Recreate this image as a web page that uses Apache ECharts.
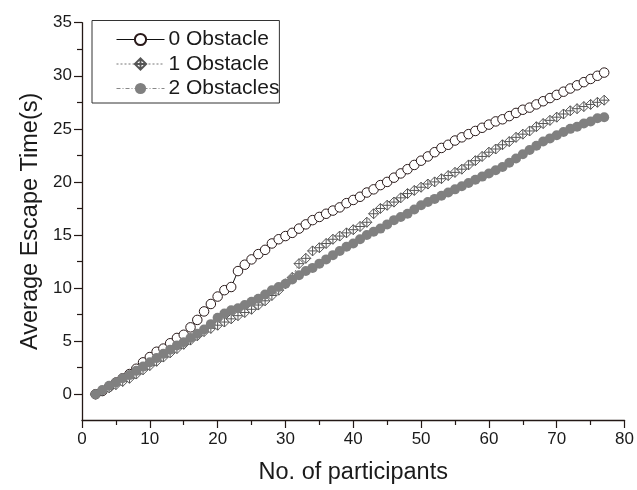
<!DOCTYPE html>
<html>
<head>
<meta charset="utf-8">
<script src="https://cdn.jsdelivr.net/npm/echarts@6/dist/echarts.min.js"></script>
<style>
html,body{margin:0;padding:0;background:#fff;}
#chart{width:637px;height:490px;}
</style>
</head>
<body>
<div id="chart"></div>
<script>
var participants = [];
for (var p = 2; p <= 77; p++) participants.push(p);

var obstacle0 = [0,0.3,0.7,1.1,1.5,1.9,2.4,3.0,3.5,4.0,4.3,4.8,5.3,5.6,6.3,7.0,7.8,8.5,9.2,9.8,10.1,11.6,12.2,12.7,13.2,13.6,14.2,14.6,14.9,15.2,15.6,16.0,16.4,16.7,17.0,17.3,17.6,18.0,18.3,18.6,19.0,19.3,19.7,20.0,20.4,20.8,21.2,21.6,22.0,22.4,22.8,23.2,23.5,23.9,24.2,24.5,24.8,25.1,25.4,25.7,25.9,26.2,26.5,26.8,27.0,27.3,27.6,27.9,28.2,28.5,28.8,29.1,29.4,29.7,30.0,30.3];
var obstacle1 = [0,0.3,0.6,0.9,1.2,1.5,1.9,2.3,2.7,3.1,3.5,3.9,4.3,4.7,5.1,5.5,5.9,6.2,6.5,6.8,7.1,7.4,7.7,8.0,8.4,8.8,9.3,9.8,10.4,11.0,12.3,12.8,13.5,13.8,14.2,14.6,14.9,15.2,15.5,15.8,16.2,17.0,17.5,17.8,18.1,18.5,18.9,19.2,19.5,19.8,20.0,20.3,20.6,20.9,21.2,21.6,22.0,22.4,22.8,23.1,23.5,23.8,24.2,24.5,24.8,25.2,25.5,25.8,26.1,26.4,26.7,26.9,27.1,27.3,27.5,27.7];
var obstacle2 = [0,0.4,0.8,1.1,1.5,1.8,2.2,2.6,3.0,3.4,3.8,4.2,4.6,4.9,5.3,5.7,6.1,6.6,7.2,7.6,7.9,8.1,8.4,8.7,9.0,9.4,9.8,10.1,10.4,10.8,11.2,11.6,11.9,12.3,12.7,13.1,13.5,13.9,14.2,14.6,15.0,15.3,15.6,16.0,16.4,16.7,17.0,17.4,17.8,18.1,18.4,18.7,19.0,19.3,19.6,19.9,20.2,20.5,20.8,21.1,21.4,21.8,22.2,22.6,23.0,23.4,23.8,24.1,24.4,24.7,25.0,25.2,25.5,25.7,26.0,26.1];

var seriesNames = ['0 Obstacle', '1 Obstacle', '2 Obstacles'];
var yMajorTicks = [0, 5, 10, 15, 20, 25, 30, 35];
var yMinorTicks = [2.5, 7.5, 12.5, 17.5, 22.5, 27.5, 32.5];

function pairs(vals) {
  return participants.map(function (x, i) { return [x, vals[i]]; });
}

var font = 'Liberation Sans, Arial, sans-serif';
var axisColor = '#231815';
var textColor = '#1a1a1a';
var chart = echarts.init(document.getElementById('chart'), null, {renderer: 'canvas'});

var diamondPlus = 'path://M0,-10 L10,0 L0,10 L-10,0 Z M0,-10 L0,10 M-10,0 L10,0';

chart.setOption({
  animation: false,
  backgroundColor: '#ffffff',
  grid: {left: 82, right: 9, top: 22.7, bottom: 66.7, containLabel: false},
  legend: {
    orient: 'vertical',
    left: 92, top: 20.5,
    padding: [8.5, 0, 4, 24],
    itemWidth: 48, itemHeight: 14, itemGap: 3.5,
    borderColor: '#333', borderWidth: 1,
    lineStyle: {width: 1},
    textStyle: {fontFamily: font, fontSize: 21, color: textColor, padding: [0,0,0,-1]},
    data: seriesNames
  },
  xAxis: {
    type: 'value', min: 0, max: 80, interval: 10,
    name: 'No. of participants', nameLocation: 'middle', nameGap: 41,
    nameTextStyle: {fontFamily: font, fontSize: 23.5, color: textColor},
    axisLine: {onZero: false, lineStyle: {color: axisColor, width: 1.3}},
    axisTick: {show: true, inside: false, length: 8, lineStyle: {color: axisColor, width: 1.2}},
    minorTick: {show: true, splitNumber: 2, length: 5, lineStyle: {color: axisColor, width: 1.2}},
    axisLabel: {fontFamily: font, fontSize: 17, color: textColor, margin: 11},
    splitLine: {show: false}
  },
  yAxis: [{
    type: 'value', min: -2.43, max: 35,
    name: 'Average Escape Time(s)', nameLocation: 'middle', nameGap: 38, nameRotate: 90,
    nameTextStyle: {fontFamily: font, fontSize: 23.5, color: textColor},
    axisLine: {onZero: false, lineStyle: {color: axisColor, width: 1.3}},
    axisTick: {show: true, inside: false, length: 8, customValues: yMajorTicks, lineStyle: {color: axisColor, width: 1.2}},
    axisLabel: {fontFamily: font, fontSize: 17, color: textColor, margin: 10, customValues: yMajorTicks},
    splitLine: {show: false}
  }, {
    type: 'value', min: -2.43, max: 35, position: 'left',
    axisLine: {show: false},
    axisTick: {show: true, inside: false, length: 5, customValues: yMinorTicks, lineStyle: {color: axisColor, width: 1.2}},
    axisLabel: {show: false},
    splitLine: {show: false}
  }],
  series: [{
    name: seriesNames[0], type: 'line', data: pairs(obstacle0),
    symbol: 'circle', symbolSize: 9.5, showAllSymbol: true,
    lineStyle: {color: '#111', width: 1},
    itemStyle: {color: '#ffffff', borderColor: '#2a1a1a', borderWidth: 1},
    z: 2
  }, {
    name: seriesNames[1], type: 'line', data: pairs(obstacle1),
    symbol: diamondPlus, symbolSize: 10, showAllSymbol: true,
    lineStyle: {color: '#777', width: 1, type: [2, 2]},
    itemStyle: {color: '#ffffff', borderColor: '#555', borderWidth: 1},
    z: 3
  }, {
    name: seriesNames[2], type: 'line', data: pairs(obstacle2),
    symbol: 'circle', symbolSize: 10, showAllSymbol: true,
    lineStyle: {color: '#888', width: 1, type: [4, 2, 1, 2]},
    itemStyle: {color: '#808080', borderColor: '#808080', borderWidth: 0},
    z: 4
  }]
});
</script>
</body>
</html>
